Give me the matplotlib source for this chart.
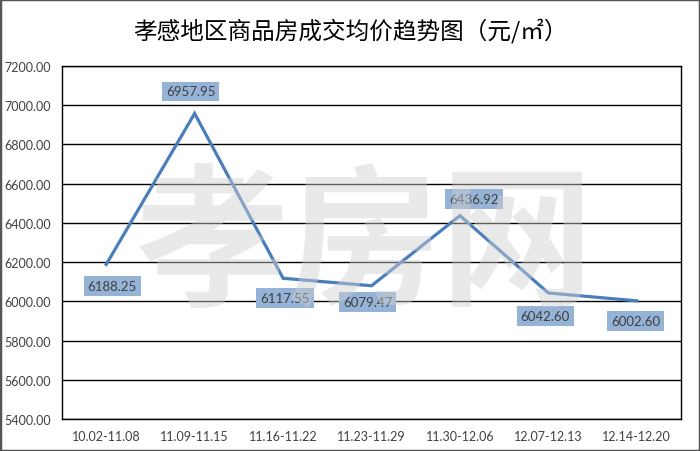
import matplotlib
matplotlib.use("Agg")
import matplotlib.pyplot as plt
from matplotlib.patches import Rectangle

plt.rcParams['font.family'] = ['Noto Sans CJK SC', 'DejaVu Sans']

weeks = ['10.02-11.08', '11.09-11.15', '11.16-11.22', '11.23-11.29',
         '11.30-12.06', '12.07-12.13', '12.14-12.20']
prices = [6188.25, 6957.95, 6117.55, 6079.47, 6436.92, 6042.60, 6002.60]
yticks = [5400, 5600, 5800, 6000, 6200, 6400, 6600, 6800, 7000, 7200]

# label offsets in pixels (dx, dy)
offsets = [(6, -22), (-4, 22), (2, -20), (-4, -16), (14, 17), (-3, -23), (-1, -20)]

fig = plt.figure(figsize=(7, 4.52), dpi=100)
ax = fig.add_axes([62 / 700, 1 - 420 / 452, (681 - 62) / 700, (420 - 67) / 452])

x = list(range(len(weeks)))
ax.plot(x, prices, color='#4A7EBB', lw=2.3, zorder=3, solid_joinstyle='miter')

for xi, v, (dx, dy) in zip(x, prices, offsets):
    ax.annotate(f'{v:.2f}', (xi, v), xytext=(dx, dy), textcoords='offset pixels',
                ha='center', va='center', fontsize=9.5, color='#404040',
                family=['Lato'],
                bbox=dict(boxstyle='square,pad=0.3', fc='#95B3D7', ec='none'),
                zorder=4)

ax.set_xlim(-0.5, len(weeks) - 0.5)
ax.set_ylim(5400, 7200)
ax.set_yticks(yticks)
ax.set_yticklabels([f'{t:.2f}' for t in yticks])
ax.set_xticks(x)
ax.set_xticklabels(weeks)
ax.tick_params(axis='both', length=0, labelsize=9, colors='#404040', pad=8)
for lab in ax.get_xticklabels() + ax.get_yticklabels():
    lab.set_family(['Lato'])
ax.grid(axis='y', color='black', lw=1)
ax.set_axisbelow(True)
for s in ax.spines.values():
    s.set_color('black')
    s.set_linewidth(1)

# watermark
fig.text(365 / 700, 1 - 248 / 452, '孝房网', fontsize=110, fontweight='bold',
         color='#D0D0D0', alpha=0.45, ha='center', va='center', zorder=5)

fig.text(0.5, 1 - 31 / 452, '孝感地区商品房成交均价趋势图（元/㎡）',
         fontsize=17, ha='center', va='center', color='black')

fig.patches.append(Rectangle((0, 0), 1, 1, transform=fig.transFigure,
                             fill=False, ec='#555555', lw=2.5))

fig.savefig('out.png', dpi=100)
